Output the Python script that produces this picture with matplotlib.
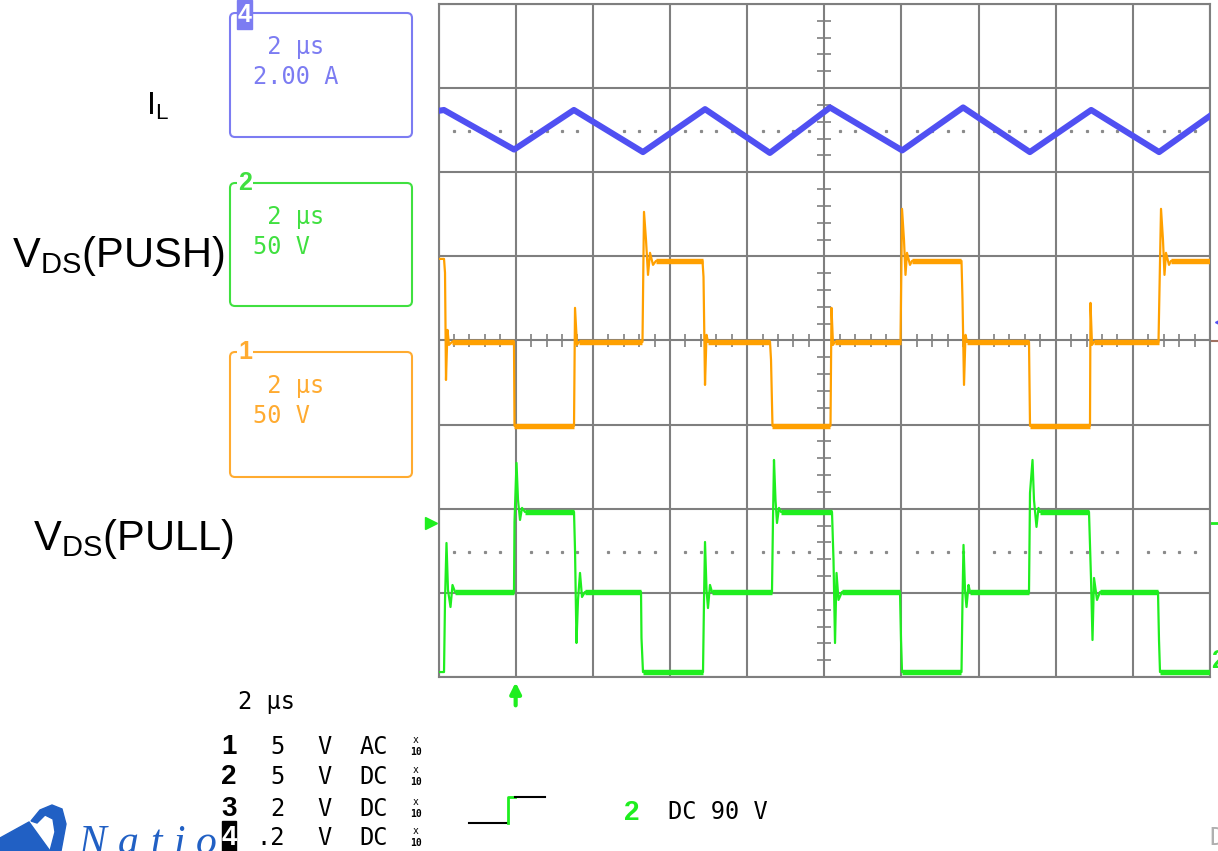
import numpy as np
import matplotlib.pyplot as plt
from matplotlib.patches import FancyBboxPatch, Rectangle, Polygon

plt.rcParams['font.family'] = ['Liberation Sans', 'DejaVu Sans']
plt.rcParams['mathtext.default'] = 'regular'
MONO = 'DejaVu Sans Mono'

# screen: 10 div x 2 us = 20 us, vertical in divisions (0 = bottom line, 8 = top)
il_t = [0.0, 0.14, 1.96, 3.51, 5.30, 6.91, 8.59, 10.15, 12.02, 13.60, 15.33, 16.92, 18.68, 20.0]
il_y = [6.73, 6.74, 6.27, 6.74, 6.24, 6.75, 6.23, 6.77, 6.26, 6.77, 6.24, 6.74, 6.24, 6.67]

# channel 1, V_DS(PUSH)
ch1_t = [0.0, 0.143, 0.169, 0.194, 0.233, 0.272, 0.350,
         1.957, 1.970,
         3.513, 3.539, 3.590, 3.642,
         5.288, 5.327, 5.379, 5.431, 5.483, 5.561, 5.638,
         6.844, 6.870, 6.909, 6.948, 6.986,
         8.594, 8.620, 8.658,
         10.162, 10.188, 10.227, 10.279,
         11.977, 12.016, 12.067, 12.106, 12.145, 12.223, 12.275,
         13.558, 13.584, 13.623, 13.662, 13.701,
         15.308, 15.334,
         16.889, 16.902, 16.941, 16.993,
         18.665, 18.730, 18.781, 18.820, 18.859, 18.937, 18.989, 20.0]
ch1_y = [4.970, 4.970, 4.804, 3.531, 4.126, 3.948, 3.983,
         3.983, 2.985,
         2.985, 4.388, 3.948, 3.983,
         3.983, 5.529, 5.196, 4.780, 5.042, 4.899, 4.946,
         4.946, 4.756, 3.472, 4.067, 3.983,
         3.983, 3.769, 2.985,
         2.985, 4.388, 3.948, 3.983,
         3.983, 5.565, 5.196, 4.780, 5.042, 4.899, 4.946,
         4.946, 4.483, 3.472, 4.067, 3.983,
         3.983, 2.985,
         2.985, 4.447, 3.948, 3.983,
         3.983, 5.565, 5.196, 4.780, 5.042, 4.899, 4.946, 4.946]

# channel 2, V_DS(PULL)
ch2_t = [0.0, 0.143, 0.169, 0.207, 0.246, 0.311, 0.363, 0.428,
         1.957, 1.970, 2.022, 2.061, 2.113, 2.165, 2.242,
         3.513, 3.539, 3.577, 3.616, 3.668, 3.720, 3.798,
         5.250, 5.262, 5.301,
         6.857, 6.883, 6.909, 6.948, 6.986, 7.038, 7.090,
         8.645, 8.671, 8.697, 8.736, 8.775, 8.827, 8.879,
         10.201, 10.240, 10.279, 10.318, 10.369, 10.460,
         11.964, 11.990, 12.016,
         13.558, 13.584, 13.610, 13.649, 13.688, 13.740, 13.778,
         15.308, 15.334, 15.399, 15.437, 15.502, 15.554, 15.593,
         16.863, 16.915, 16.954, 16.993, 17.071, 17.148,
         18.652, 18.678, 18.704, 20.0]
ch2_y = [0.059, 0.059, 0.916, 1.593, 1.034, 0.832, 1.094, 1.011,
         1.011, 1.843, 2.545, 2.105, 1.867, 2.010, 1.962,
         1.962, 1.510, 0.404, 0.916, 1.237, 0.951, 1.011,
         1.011, 0.464, 0.059,
         0.059, 0.916, 1.605, 1.034, 0.820, 1.094, 1.011,
         1.011, 1.867, 2.580, 2.105, 1.831, 2.010, 1.962,
         1.962, 1.391, 0.404, 1.237, 0.916, 1.011,
         1.011, 0.440, 0.059,
         0.059, 0.916, 1.570, 1.034, 0.832, 1.094, 1.011,
         1.011, 2.188, 2.580, 2.105, 1.784, 2.010, 1.962,
         1.962, 1.177, 0.440, 1.177, 0.916, 1.011,
         1.011, 0.440, 0.059, 0.059]

il_ref = 6.49
ch2_ref = 1.49
ch2_gnd = 1.83
trig_t = 2.0

trace_labels = [r'$I_L$', r'$V_{DS}$(PUSH)', r'$V_{DS}$(PULL)']
box_lines = [(' 2 µs', '2.00 A'), (' 2 µs', '50 V'), (' 2 µs', '50 V')]
box_tags = ['4', '2', '1']
chan_rows = [('1', '5', 'AC'), ('2', '5', 'DC'), ('3', '2', 'DC'), ('4', '.2', 'DC')]

GRID = '#7f7f7f'
BLUE, BLUE_BOX = '#5050f2', '#7c7cf2'
ORANGE, ORANGE_BOX = '#ffa000', '#ffab30'
GREEN, GREEN_BOX = '#1fee1f', '#40e040'

W, H = 1218, 851
fig = plt.figure(figsize=(W / 100, H / 100), dpi=100)

ax = fig.add_axes([438.5 / W, (H - 677) / H, 771.5 / W, 673 / H])
ax.set_xlim(0, 20)
ax.set_ylim(0, 8)
ax.set_xticks(np.arange(0, 21, 2))
ax.set_yticks(np.arange(0, 9, 1))
ax.tick_params(length=0, labelbottom=False, labelleft=False)
ax.grid(True, color=GRID, lw=1.5)
ax.set_axisbelow(True)
for s in ax.spines.values():
    s.set_color(GRID)
    s.set_linewidth(1.5)

# centre cross ticks
minor_y = [v for v in np.arange(0, 8.01, 0.2) if abs(v - round(v)) > 1e-6]
minor_x = [v for v in np.arange(0, 20.01, 0.4) if abs(v / 2 - round(v / 2)) > 1e-6]
ax.hlines(minor_y, 10 - 0.18, 10 + 0.18, color=GRID, lw=1.2, zorder=1)
ax.vlines(minor_x, 4 - 0.08, 4 + 0.08, color=GRID, lw=1.2, zorder=1)

# reference dotted lines
for ref in (il_ref, ch2_ref):
    ax.plot(minor_x, [ref] * len(minor_x), ls='none', marker='s', ms=1.3,
            color='#8a8a8a', zorder=1)


def trace(t, y, c, thin, thick, z):
    ax.plot(t, y, color=c, lw=thin, zorder=z)
    for i in range(len(t) - 1):
        if y[i] == y[i + 1] and t[i + 1] - t[i] > 0.3:
            ax.plot(t[i:i + 2], y[i:i + 2], color=c, lw=thick, zorder=z,
                    solid_capstyle='butt')


ax.plot(il_t, il_y, color=BLUE, lw=4.4, zorder=3)
trace(ch1_t, ch1_y, ORANGE, 1.6, 3.9, 4)
trace(ch2_t, ch2_y, GREEN, 1.6, 3.9, 5)

# markers around the screen
ax.plot([-0.19], [ch2_gnd], marker='>', ms=8, color=GREEN, clip_on=False)
ax.plot([20.02, 20.2], [ch2_gnd, ch2_gnd], color=GREEN, lw=2, clip_on=False)
ax.plot([20.25], [4.22], marker='<', ms=7, color=BLUE, clip_on=False)
ax.plot([20.02, 20.2], [3.99, 3.99], color='#a07060', lw=1.5, clip_on=False)
ax.annotate('', xy=(trig_t, -0.03), xytext=(trig_t, -0.37),
            arrowprops=dict(arrowstyle='-|>', color=GREEN, lw=3, mutation_scale=16),
            annotation_clip=False)

# overlay in pixel coords for the side panels
ov = fig.add_axes([0, 0, 1, 1], zorder=3)
ov.set_xlim(0, W)
ov.set_ylim(H, 0)
ov.axis('off')
ov.patch.set_visible(False)

boxes = [(13, 137, BLUE_BOX), (183, 306, GREEN_BOX), (352, 477, ORANGE_BOX)]
for (y0, y1, c), lines, tag in zip(boxes, box_lines, box_tags):
    ov.add_patch(FancyBboxPatch((230, y0), 182, y1 - y0,
                                boxstyle='round,pad=0,rounding_size=5',
                                fill=False, ec=c, lw=1.5))
    ov.text(253, y0 + 41, lines[0], color=c, family=MONO, fontsize=17, va='baseline')
    ov.text(253, y0 + 71, lines[1], color=c, family=MONO, fontsize=17, va='baseline')
    if tag == '4':
        ov.add_patch(Rectangle((237, 0), 15, 29, color=c, zorder=4))
        ov.text(244.5, 15, tag, color='white', fontweight='bold', fontsize=18,
                ha='center', va='center', zorder=5)
    else:
        ov.text(245, y0, tag, color=c, fontweight='bold', fontsize=18,
                ha='center', va='center', zorder=5,
                bbox=dict(fc='white', ec='none', pad=0.6))

ov.text(146, 115, trace_labels[0], fontsize=23, va='baseline')
ov.text(12, 267, trace_labels[1], fontsize=30, va='baseline')
ov.text(33, 550, trace_labels[2], fontsize=30, va='baseline')

# bottom readout
ov.text(238, 709, '2 µs', family=MONO, fontsize=17, va='baseline')
for (ch, val, cp), b in zip(chan_rows, [754, 784, 816, 845]):
    if ch == '4':
        ov.add_patch(Rectangle((222, 821), 14, 30, color='black', zorder=6))
        ov.text(229, b, ch, color='white', fontweight='bold', fontsize=20,
                ha='center', va='baseline', zorder=7)
    else:
        ov.text(229, b, ch, fontweight='bold', fontsize=20, ha='center', va='baseline')
    ov.text(285, b, val, family=MONO, fontsize=17, ha='right', va='baseline')
    ov.text(324, b, 'V', family=MONO, fontsize=17, ha='center', va='baseline')
    ov.text(374, b, cp, family=MONO, fontsize=17, ha='center', va='baseline')
    ov.text(416, b - 11, 'x', family=MONO, fontsize=7, ha='center', va='baseline')
    ov.text(416, b + 1, '10', family=MONO, fontsize=7, fontweight='bold',
            ha='center', va='baseline')

ov.plot([469, 508], [823, 823], color='black', lw=1.5)
ov.plot([508, 508, 515], [823, 797, 797], color=GREEN, lw=2)
ov.plot([515, 545], [797, 797], color='black', lw=1.5)
ov.text(631.5, 820, '2', color=GREEN, fontweight='bold', fontsize=20,
        ha='center', va='baseline')
ov.text(668, 819, 'DC 90 V', family=MONO, fontsize=17, va='baseline')
ov.text(1209, 845, 'D', color='#b0b0b0', family=MONO, fontsize=17, va='baseline')
ov.text(1211, 668, '2', color=GREEN, fontweight='bold', fontsize=18, va='baseline')

# logo, cut off at the bottom edge
LOGO = '#2160c4'
ov.add_patch(Polygon([(0, 851), (0, 838), (29, 822), (50, 851)], color=LOGO))
ov.add_patch(Polygon([(31, 821), (40, 810), (52, 805), (62, 809), (66, 824),
                      (61, 851), (50, 851), (55, 832), (53, 819), (45, 815),
                      (37, 823)], color=LOGO))
for ch, x in zip('Natio', [78, 118, 150, 174, 196]):
    ov.text(x, 854, ch, family='Liberation Serif', style='italic', fontsize=30,
            color=LOGO, va='baseline')

fig.savefig('out.png', dpi=100)
